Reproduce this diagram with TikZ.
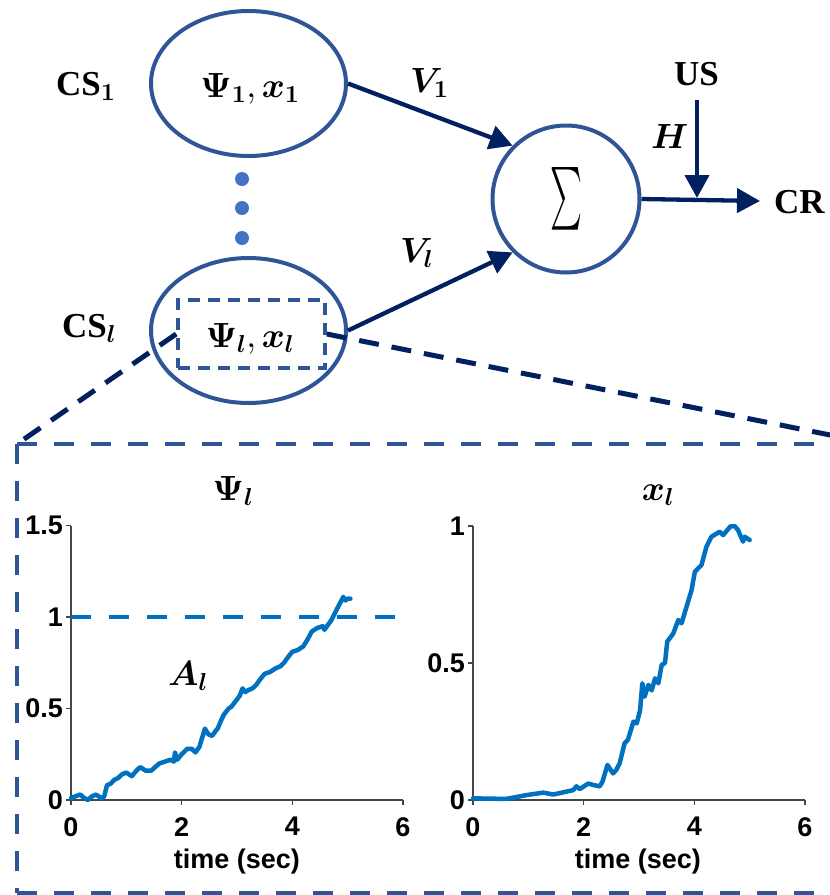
\documentclass[tikz,border=0pt]{standalone}
\usepackage[no-math]{fontspec}
\usepackage{amsmath,bm}
\usepackage{graphicx}
\DeclareFontShape{OML}{cmm}{m}{it}{<->cmmi10}{}
\DeclareFontShape{OML}{cmm}{b}{it}{<->cmmib10}{}
\DeclareFontShape{OMS}{cmsy}{m}{n}{<->cmsy10}{}
\DeclareFontShape{OMS}{cmsy}{b}{n}{<->cmbsy10}{}
\DeclareFontShape{OT1}{cmr}{m}{n}{<->cmr10}{}
\DeclareFontShape{OT1}{cmr}{bx}{n}{<->cmbx10}{}
\setmainfont{Liberation Serif}
\newfontfamily\axfont{Liberation Sans}
\usetikzlibrary{shapes.geometric,arrows.meta}
\definecolor{nodeblue}{RGB}{47,85,151}
\definecolor{navyline}{RGB}{0,32,96}
\definecolor{dotblue}{RGB}{68,114,196}
\definecolor{plotblue}{RGB}{0,112,192}
\definecolor{axgray}{RGB}{70,70,70}
\tikzset{
  lbl/.style={font=\fontsize{35}{40}\selectfont\bfseries, inner sep=0pt},
  ring/.style={draw=nodeblue, line width=4pt, inner sep=0pt},
  arr/.style={draw=navyline, line width=4.3pt, -{Triangle[length=23pt,width=24pt]}},
  conn/.style={draw=navyline, line width=5pt, dash pattern=on 20pt off 13pt},
  bigbox/.style={draw=nodeblue, line width=4.5pt, dash pattern=on 20pt off 17pt},
  dotnode/.style={circle, fill=dotblue, minimum size=14pt, inner sep=0pt},
  axline/.style={draw=axgray, line width=1.2pt},
  ticklbl/.style={font=\axfont\bfseries\fontsize{27}{32}\selectfont, inner sep=0pt},
  curve/.style={draw=plotblue, line width=4.5pt, line join=round, line cap=round},
  refline/.style={draw=plotblue, line width=4pt, dash pattern=on 20pt off 18pt}
}
\begin{document}
\begin{tikzpicture}[x=1pt,y=-1pt]
\useasboundingbox (0,0) rectangle (830,895);

% top diagram
\node[ring, ellipse, minimum width=195pt, minimum height=145pt] (e1) at (248.5,83.5) {};
\node[ring, ellipse, minimum width=195pt, minimum height=145pt] (e2) at (248.5,330.5) {};
\node[ring, circle, minimum size=147pt] (sig) at (566,199) {\resizebox{32pt}{47pt}{$\textstyle\sum$}};
\node[draw=nodeblue, line width=3.6pt, dash pattern=on 12pt off 8pt, minimum width=147pt, minimum height=68pt, inner sep=0pt] (zr) at (251.5,334) {};

\node[lbl, anchor=base] (t1) at (250,97) {$\bm{\Psi}_{\bm{1}}, \bm{x}_{\bm{1}}$};
\node[lbl, anchor=base] (t2) at (250,347) {$\bm{\Psi}_{\bm{l}}, \bm{x}_{\bm{l}}$};
\node[lbl, anchor=base west] (cs1) at (56,95) {CS$_{\bm{1}}$};
\node[lbl, anchor=base west] (csl) at (62,337) {CS$_{\bm{l}}$};
\node[lbl, anchor=base west] (v1) at (410,92) {$\bm{V}_{\bm{1}}$};
\node[lbl, anchor=base west] (vl) at (400,262) {$\bm{V}_{\bm{l}}$};
\node[lbl, anchor=base west] (us) at (674,85) {US};
\node[lbl, anchor=base west] (h) at (651,148) {$\bm{H}$};
\node[lbl, anchor=base west] (cr) at (774,213) {CR};

\node[dotnode] (d1) at (242,179) {};
\node[dotnode] (d2) at (242,208) {};
\node[dotnode] (d3) at (242,238) {};

\coordinate (crpt) at (760,201);
\coordinate (usstart) at (697,100);
\coordinate (usend) at (697,198);
\draw[arr] (e1.east) -- (sig.135);
\draw[arr] (e2.east) -- (sig.225);
\draw[arr] (sig.east) -- (crpt);
\draw[arr] (usstart) -- (usend);

% zoom box
\coordinate (boxtl) at (17,444);
\coordinate (boxbl) at (17,893);
\coordinate (boxtr) at (875,444);
\coordinate (boxbr) at (875,893);
\draw[conn] (zr.west) -- (boxtl);
\draw[conn] (zr.east) -- (boxtr);
\draw[bigbox] (boxtl) -- (boxtr);
\draw[bigbox] (boxtl) -- (boxbl);
\draw[bigbox] (boxbl) -- (boxbr);

% left plot
\begin{scope}[shift={(71,800)}, x=55.33pt, y=183pt]
  \draw[axline] (0,1.5) -- (0,0) -- (6,0);
  \foreach \t in {0,2,4,6} {
    \draw[axline] (\t,0) -- ++(0pt,-5pt);
    \node[ticklbl, anchor=north] at (\t,0) [yshift=-17pt] {\t};
  }
  \foreach \v/\s in {0/0,0.5/0.5,1/1,1.5/1.5} {
    \draw[axline] (0,\v) -- ++(-5pt,0pt);
    \node[ticklbl, anchor=east] at (0,\v) [xshift=-8pt] {\s};
  }
  \draw[refline] (0,1) -- (6,1);
  \draw[curve] (0,0.01) -- (0.08,0.02) -- (0.17,0.03) -- (0.22,0.015) -- (0.3,0) -- (0.38,0.02) -- (0.45,0.03) -- (0.55,0.01) -- (0.6,0.02) -- (0.65,0.08) -- (0.72,0.09) -- (0.78,0.11) -- (0.85,0.12) -- (0.92,0.14) -- (1.0,0.15) -- (1.1,0.13) -- (1.18,0.16) -- (1.25,0.18) -- (1.35,0.16) -- (1.45,0.16) -- (1.52,0.18) -- (1.6,0.20) -- (1.7,0.21) -- (1.8,0.22) -- (1.86,0.21) -- (1.88,0.26) -- (1.92,0.22) -- (2.0,0.25) -- (2.1,0.28) -- (2.18,0.28) -- (2.25,0.26) -- (2.32,0.29) -- (2.42,0.39) -- (2.48,0.36) -- (2.55,0.35) -- (2.62,0.38) -- (2.65,0.39) -- (2.72,0.44) -- (2.77,0.47) -- (2.85,0.50) -- (2.9,0.51) -- (3.0,0.55) -- (3.05,0.57) -- (3.1,0.61) -- (3.15,0.59) -- (3.2,0.60) -- (3.28,0.61) -- (3.35,0.63) -- (3.42,0.66) -- (3.5,0.69) -- (3.6,0.70) -- (3.7,0.72) -- (3.78,0.73) -- (3.85,0.75) -- (3.92,0.78) -- (4.0,0.81) -- (4.1,0.82) -- (4.2,0.84) -- (4.28,0.88) -- (4.35,0.92) -- (4.45,0.94) -- (4.55,0.95) -- (4.58,0.93) -- (4.65,0.96) -- (4.7,0.98) -- (4.75,1.01) -- (4.8,1.04) -- (4.87,1.08) -- (4.92,1.11) -- (4.96,1.09) -- (5.0,1.10) -- (5.05,1.10);
\end{scope}
\node[lbl, anchor=base] (psititle) at (233,500) {$\bm{\Psi}_{\bm{l}}$};
\node[lbl, anchor=base west] (al) at (168,685) {$\bm{A}_{\bm{l}}$};
\node[ticklbl] (xlab1) at (237,862) {time (sec)};

% right plot
\begin{scope}[shift={(473,800)}, x=55.33pt, y=274pt]
  \draw[axline] (0,1) -- (0,0) -- (6,0);
  \foreach \t in {0,2,4,6} {
    \draw[axline] (\t,0) -- ++(0pt,-5pt);
    \node[ticklbl, anchor=north] at (\t,0) [yshift=-17pt] {\t};
  }
  \foreach \v/\s in {0/0,0.5/0.5,1/1} {
    \draw[axline] (0,\v) -- ++(-5pt,0pt);
    \node[ticklbl, anchor=east] at (0,\v) [xshift=-8pt] {\s};
  }
  \draw[curve] (0,0.006) -- (0.6,0.004) -- (0.97,0.018) -- (1.27,0.027) -- (1.45,0.02) -- (1.81,0.036) -- (1.87,0.05) -- (1.93,0.04) -- (2.08,0.06) -- (2.17,0.055) -- (2.29,0.05) -- (2.34,0.067) -- (2.43,0.128) -- (2.53,0.097) -- (2.59,0.11) -- (2.65,0.134) -- (2.74,0.207) -- (2.8,0.22) -- (2.9,0.286) -- (2.96,0.28) -- (3.02,0.328) -- (3.06,0.426) -- (3.1,0.377) -- (3.17,0.42) -- (3.23,0.40) -- (3.29,0.444) -- (3.35,0.426) -- (3.41,0.493) -- (3.47,0.5) -- (3.51,0.578) -- (3.62,0.608) -- (3.71,0.657) -- (3.77,0.645) -- (3.86,0.706) -- (3.95,0.766) -- (4.01,0.833) -- (4.13,0.858) -- (4.22,0.925) -- (4.31,0.961) -- (4.46,0.979) -- (4.52,0.967) -- (4.65,0.998) -- (4.73,1.0) -- (4.79,0.985) -- (4.88,0.943) -- (4.91,0.961) -- (5.0,0.949);
\end{scope}
\node[lbl, anchor=base] (xtitle) at (658,500) {$\bm{x}_{\bm{l}}$};
\node[ticklbl] (xlab2) at (638,862) {time (sec)};
\end{tikzpicture}
\end{document}
